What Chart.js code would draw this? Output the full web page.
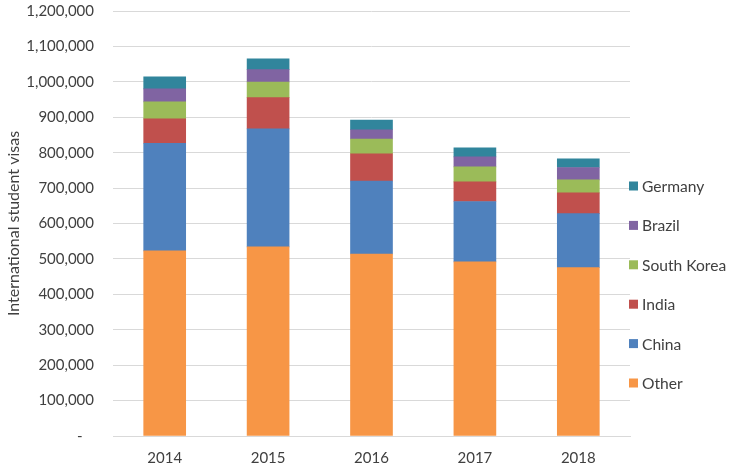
<!DOCTYPE html>
<html lang="en">
<head>
    <meta charset="utf-8">
    <title>International student visas</title>
    <script src="https://cdn.jsdelivr.net/npm/chart.js"></script>
    <style>
        html, body { margin: 0; padding: 0; background: #fff; }
        #wrap { width: 734px; height: 468px; }
    </style>
</head>
<body>
    <div id="wrap"><canvas id="grafico"></canvas></div>

    <script>
        const anos = ['2014', '2015', '2016', '2017', '2018'];

        const other      = [522600, 534000, 514000, 491500, 475400];
        const china      = [304000, 333000, 206000, 170500, 152600];
        const india      = [69000, 88600, 77000, 55500, 58400];
        const southKorea = [48000, 44000, 41500, 42500, 36600];
        const brazil     = [36500, 34700, 26300, 28000, 35000];
        const germany    = [34000, 30300, 27400, 25600, 24500];

        const fonte = 'Lato, "Open Sans", sans-serif';
        const corTexto = '#404040';

        // legenda desenhada a direita, ordem invertida como no excel
        const legendaDireita = {
            id: 'legendaDireita',
            afterDraw(chart) {
                const ctx = chart.ctx;
                const sets = chart.data.datasets.slice().reverse();
                let y = 186;
                ctx.save();
                ctx.font = '15.6px ' + fonte;
                ctx.textBaseline = 'middle';
                ctx.textAlign = 'left';
                sets.forEach(ds => {
                    ctx.fillStyle = ds.backgroundColor;
                    ctx.fillRect(629, y - 4.5, 9, 9);
                    ctx.fillStyle = corTexto;
                    ctx.fillText(ds.label, 642, y + 1);
                    y += 39.4;
                });
                ctx.restore();
            }
        };

        function criarGrafico() {
            const ctx = document.getElementById('grafico').getContext('2d');
            new Chart(ctx, {
                type: 'bar',
                data: {
                    labels: anos,
                    datasets: [
                        { label: 'Other', data: other, backgroundColor: '#f79646' },
                        { label: 'China', data: china, backgroundColor: '#4f81bd' },
                        { label: 'India', data: india, backgroundColor: '#c0504d' },
                        { label: 'South Korea', data: southKorea, backgroundColor: '#9bbb59' },
                        { label: 'Brazil', data: brazil, backgroundColor: '#8064a2' },
                        { label: 'Germany', data: germany, backgroundColor: '#31859c' }
                    ]
                },
                options: {
                    responsive: true,
                    maintainAspectRatio: false,
                    animation: false,
                    layout: { padding: { top: 11, right: 104, left: 0, bottom: 0 } },
                    datasets: { bar: { barThickness: 42, borderWidth: 0 } },
                    plugins: {
                        legend: { display: false },
                        tooltip: { enabled: false }
                    },
                    scales: {
                        x: {
                            stacked: true,
                            grid: { display: false, drawTicks: false },
                            border: { display: true, color: '#d9d9d9', width: 1 },
                            ticks: {
                                color: corTexto,
                                font: { family: fonte, size: 15 },
                                padding: 13
                            },
                            afterFit(s) { s.height = 32; }
                        },
                        y: {
                            stacked: true,
                            min: 0,
                            max: 1200000,
                            grid: { color: '#d9d9d9', lineWidth: 1, drawTicks: false },
                            border: { display: false },
                            ticks: {
                                stepSize: 100000,
                                color: corTexto,
                                font: { family: fonte, size: 15 },
                                padding: 19,
                                callback: v => v === 0 ? '-   ' : v.toLocaleString('en-US')
                            },
                            title: {
                                display: true,
                                text: 'International student visas',
                                color: corTexto,
                                font: { family: fonte, size: 16 },
                                padding: { top: 4, bottom: 0 }
                            },
                            afterFit(s) {
                                s.width = 113;
                                // o padding dos ticks nao deve empurrar a area do grafico
                                s.paddingTop = 9;
                                s.paddingBottom = 9;
                            }
                        }
                    }
                },
                plugins: [legendaDireita]
            });
        }

        window.addEventListener('DOMContentLoaded', criarGrafico);
    </script>
</body>
</html>
